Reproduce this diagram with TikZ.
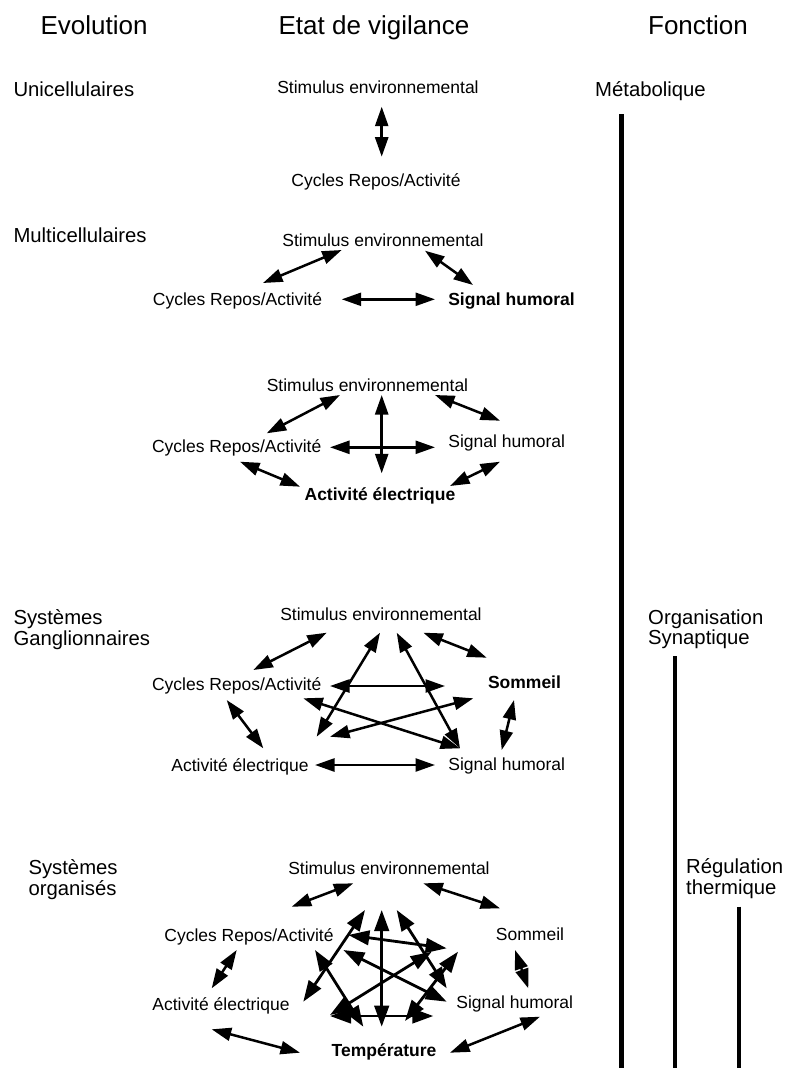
\documentclass[tikz,border=0pt]{standalone}
\usepackage{fontspec}
\setmainfont{Liberation Sans}
\usetikzlibrary{arrows.meta}
\begin{document}
\begin{tikzpicture}[x=1pt,y=-1pt,
  hdr/.style={font=\fontsize{26}{30}\selectfont, anchor=base, inner sep=0pt},
  lbl/.style={font=\fontsize{20.3}{20.5}\selectfont, anchor=base west, align=left, inner sep=0pt},
  txt/.style={font=\fontsize{17.5}{20}\selectfont, anchor=base, inner sep=0pt},
  btxt/.style={txt, font=\fontsize{17.5}{20}\selectfont\bfseries},
  arr/.style={line width=2.5pt, {Triangle[length=19.5pt,width=13pt]}-{Triangle[length=19.5pt,width=13pt]}},
  barr/.style={line width=2.8pt, {Triangle[length=21pt,width=14.5pt]}-{Triangle[length=21pt,width=14.5pt]}},
  vbar/.style={line width=4.7pt}
]
\useasboundingbox (0,0) rectangle (786,1068);

% headers
\node[hdr] (hEvo) at (94,34) {Evolution};
\node[hdr] (hEtat) at (374,34) {Etat de vigilance};
\node[hdr] (hFon) at (698,34) {Fonction};

% left labels (base = last line)
\node[lbl] (lUni) at (13.3,96.7) {Unicellulaires};
\node[lbl] (lMul) at (13.3,242.3) {Multicellulaires};
\node[lbl] (lGan) at (13.3,645) {Systèmes\\Ganglionnaires};
\node[lbl] (lOrg) at (28.3,895) {Systèmes\\organisés};

% right labels
\node[lbl] (rMet) at (595,96.7) {Métabolique};
\node[lbl] (rSyn) at (648,644.5) {Organisation\\Synaptique};
\node[lbl] (rThe) at (686,894) {Régulation\\thermique};

% vertical bars
\coordinate (v1a) at (621.7,114.3); \coordinate (v1b) at (621.7,1068);
\coordinate (v2a) at (675,656);     \coordinate (v2b) at (675,1068);
\coordinate (v3a) at (739,906.7);   \coordinate (v3b) at (739,1068);
\draw[vbar] (v1a) -- (v1b);
\draw[vbar] (v2a) -- (v2b);
\draw[vbar] (v3a) -- (v3b);

% ---------- cluster 1
\node[txt] (s1) at (378,93.3) {Stimulus environnemental};
\node[txt] (c1) at (376,186.7) {Cycles Repos/Activité};
\coordinate (k1a) at (381.7,106.7); \coordinate (k1b) at (381.7,156.7);
\draw[arr] (k1a) -- (k1b);

% ---------- cluster 2
\node[txt] (s2) at (383,246.7) {Stimulus environnemental};
\node[txt] (c2) at (237.5,305) {Cycles Repos/Activité};
\node[btxt] (h2) at (511.5,305) {Signal humoral};
\coordinate (k2a) at (263,283);     \coordinate (k2b) at (341.7,250);
\coordinate (k2c) at (425,250.7);   \coordinate (k2d) at (473,285);
\coordinate (k2e) at (341.7,299.3); \coordinate (k2f) at (435,299.3);
\draw[arr] (k2a) -- (k2b);
\draw[arr] (k2c) -- (k2d);
\draw[arr] (k2e) -- (k2f);

% ---------- cluster 3
\node[txt] (s3) at (367.5,391.7) {Stimulus environnemental};
\node[txt] (c3) at (236.7,452.7) {Cycles Repos/Activité};
\node[txt] (h3) at (506.7,447.3) {Signal humoral};
\node[btxt] (e3) at (380,500) {Activité électrique};
\coordinate (k3a) at (266.7,433.3); \coordinate (k3b) at (340,395);
\coordinate (k3c) at (435,395);     \coordinate (k3d) at (500,420.7);
\coordinate (k3e) at (240,461.7);   \coordinate (k3f) at (300,486.7);
\coordinate (k3g) at (450,486);     \coordinate (k3h) at (500,461.7);
\coordinate (k3i) at (381.7,395);   \coordinate (k3j) at (381.7,473.3);
\coordinate (k3k) at (330,447.3);   \coordinate (k3l) at (435,447.3);
\draw[arr] (k3a) -- (k3b);
\draw[arr] (k3c) -- (k3d);
\draw[arr] (k3e) -- (k3f);
\draw[arr] (k3g) -- (k3h);
\draw[arr] (k3i) -- (k3j);
\draw[arr] (k3k) -- (k3l);

% ---------- cluster 4
\node[txt] (s4) at (381,620.7) {Stimulus environnemental};
\node[txt] (c4) at (236.7,690) {Cycles Repos/Activité};
\node[btxt] (z4) at (524.5,688.3) {Sommeil};
\node[txt] (e4) at (240,771.7) {Activité électrique};
\node[txt] (h4) at (506.7,770) {Signal humoral};
\coordinate (k4a1) at (253.3,670);   \coordinate (k4a2) at (326.7,632.7);
\coordinate (k4b1) at (423.3,632.7); \coordinate (k4b2) at (486.7,657.7);
\coordinate (k4c1) at (226.7,700);   \coordinate (k4c2) at (263.3,748.3);
\coordinate (k4d1) at (514,700);     \coordinate (k4d2) at (501.7,750);
\coordinate (k4e1) at (315,765);     \coordinate (k4e2) at (435,765);
\coordinate (k4f1) at (380,632.7);   \coordinate (k4f2) at (316.7,736.7);
\coordinate (k4g1) at (396.7,632.7); \coordinate (k4g2) at (460,748.3);
\coordinate (k4h1) at (330,686);     \coordinate (k4h2) at (445,686);
\coordinate (k4i1) at (303.3,698.3); \coordinate (k4i2) at (460,748.3);
\coordinate (k4j1) at (473.3,698.3); \coordinate (k4j2) at (330,736.7);
\foreach \k in {a,b,c,d,e,f,g,h,i,j}{\draw[arr] (k4\k1) -- (k4\k2);}

% ---------- cluster 5
\node[txt] (s5) at (389,874) {Stimulus environnemental};
\node[txt] (c5) at (249,941.7) {Cycles Repos/Activité};
\node[txt] (z5) at (530,940) {Sommeil};
\node[txt] (e5) at (221,1010.7) {Activité électrique};
\node[txt] (h5) at (514.7,1008.3) {Signal humoral};
\node[btxt] (t5) at (384,1056) {Température};
% outer
\coordinate (k5a1) at (291.7,906.7); \coordinate (k5a2) at (353.3,883.3);
\coordinate (k5b1) at (423.3,883.3); \coordinate (k5b2) at (500,908.3);
\coordinate (k5c1) at (236.7,950);   \coordinate (k5c2) at (211.7,988.3);
\coordinate (k5d1) at (515,950);     \coordinate (k5d2) at (528.3,988.3);
\coordinate (k5e1) at (211.7,1029.3);\coordinate (k5e2) at (300,1052.7);
\coordinate (k5f1) at (450,1052.7);  \coordinate (k5f2) at (540,1016.7);
\foreach \k in {a,b,c,d,e,f}{\draw[arr] (k5\k1) -- (k5\k2);}
% inner
\coordinate (q1a) at (381.7,910);   \coordinate (q1b) at (381.7,1026.7);
\coordinate (q2a) at (365,910);     \coordinate (q2b) at (303.3,1001.7);
\coordinate (q3a) at (315,950);     \coordinate (q3b) at (363.3,1026.7);
\coordinate (q4a) at (396.7,910);   \coordinate (q4b) at (446.7,988.3);
\coordinate (q5a) at (348.3,935);   \coordinate (q5b) at (446.7,948.3);
\coordinate (q6a) at (343.3,950);   \coordinate (q6b) at (446.7,1001.7);
\coordinate (q7a) at (431.7,951.7); \coordinate (q7b) at (330,1015);
\coordinate (q8a) at (458,951.7);   \coordinate (q8b) at (405,1021);
\coordinate (q9a) at (330,1016);    \coordinate (q9b) at (433.3,1016);
\foreach \k in {1,...,9}{\draw[barr] (q\k a) -- (q\k b);}

\end{tikzpicture}
\end{document}
